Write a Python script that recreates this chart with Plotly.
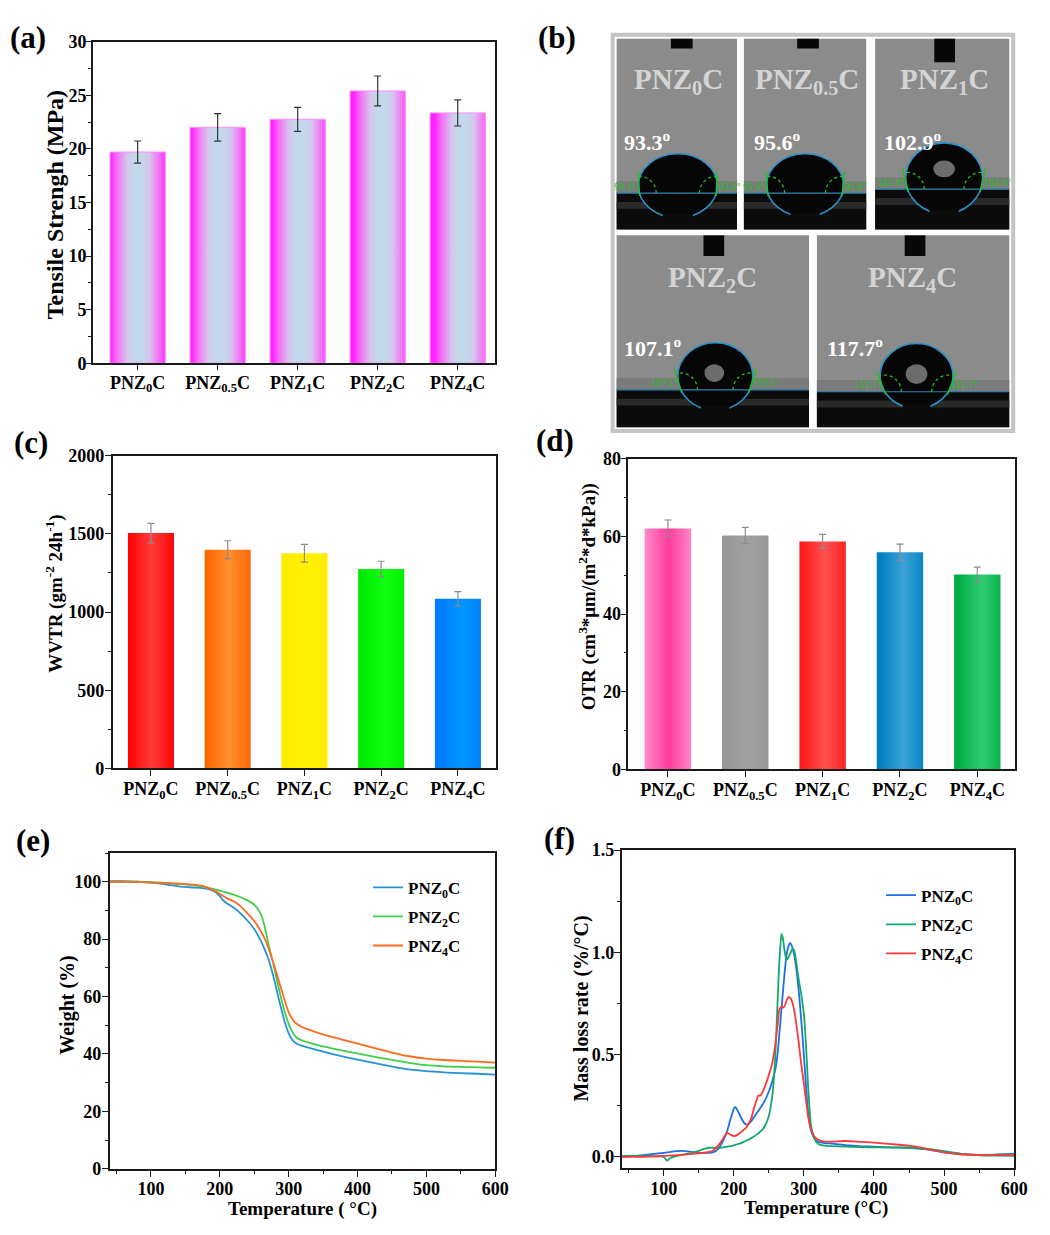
import math
import plotly.graph_objects as go

# page body keeps the browser's default 8px margin, so the figure is 16px smaller
OFF = 8
W, H = 1034, 1217
FONT = 'Liberation Serif'

# ---------------- data ----------------
categories = ['PNZ<sub>0</sub>C', 'PNZ<sub>0.5</sub>C', 'PNZ<sub>1</sub>C', 'PNZ<sub>2</sub>C', 'PNZ<sub>4</sub>C']

tensile = [19.7, 22.0, 22.75, 25.4, 23.35]
tensile_err = [1.03, 1.28, 1.12, 1.39, 1.22]

wvtr = [1505, 1399, 1376, 1275, 1085]
wvtr_err = [62, 57, 57, 50, 46]

otr = [62.0, 60.2, 58.7, 55.9, 50.2]
otr_err = [2.2, 2.1, 1.8, 2.1, 1.9]

contact_angles = ['93.3', '95.6', '102.9', '107.1', '117.7']
fitted_angles = [93.3, 95.6, 102.9, 107.1, 111.7]

series_names = ['PNZ<sub>0</sub>C', 'PNZ<sub>2</sub>C', 'PNZ<sub>4</sub>C']

tga_T = [40, 60, 80, 100, 120, 140, 160, 175, 185, 195, 200, 205, 210, 220, 230, 240, 250, 255,
         260, 265, 270, 275, 280, 285, 290, 295, 300, 305, 310, 320, 330, 350, 375, 400, 425,
         450, 475, 500, 525, 550, 575, 600]
tga_pnz0 = [100.2, 100.2, 100.0, 99.7, 99.2, 98.4, 98.0, 97.8, 97.3, 96.2, 95.0, 93.5, 92.5, 91.0,
            89.0, 86.5, 83.5, 81.5, 79.2, 76.5, 73.5, 69.5, 65.0, 59.8, 55.0, 50.5, 47.2, 45.0,
            43.8, 42.8, 42.1, 40.8, 39.3, 38.0, 36.8, 35.6, 34.6, 34.0, 33.6, 33.3, 33.1, 32.8]
tga_pnz2 = [100.0, 100.0, 100.0, 99.8, 99.6, 99.3, 98.8, 98.3, 97.8, 97.2, 96.9, 96.6, 96.2, 95.5,
            94.6, 93.5, 92.0, 90.6, 88.5, 84.5, 79.0, 74.0, 69.0, 63.5, 58.5, 54.0, 50.5, 47.8,
            46.0, 44.6, 43.9, 42.6, 41.3, 40.2, 39.0, 37.9, 36.9, 36.1, 35.7, 35.5, 35.3, 35.2]
tga_pnz4 = [100.0, 100.0, 99.9, 99.8, 99.6, 99.3, 99.0, 98.6, 97.7, 96.5, 95.8, 95.0, 94.3, 93.2,
            91.5, 89.0, 86.3, 84.6, 82.6, 80.3, 77.3, 73.8, 70.0, 66.0, 62.0, 58.0, 54.5, 52.3,
            50.8, 49.3, 48.4, 46.8, 45.2, 43.6, 42.0, 40.5, 39.2, 38.4, 37.9, 37.6, 37.3, 37.0]

dtg_T = [40, 60, 80, 100, 105, 110, 125, 140, 150, 160, 165, 170, 175, 180, 185, 190, 195, 200,
         202, 205, 210, 215, 218, 220, 225, 230, 235, 238, 240, 245, 250, 255, 258, 260, 263,
         265, 268, 270, 272, 274, 276, 278, 280, 282, 284, 286, 288, 290, 293, 296, 300, 303,
         306, 310, 315, 320, 330, 340, 360, 380, 400, 425, 450, 475, 500, 525, 550, 575, 600]
dtg_pnz0 = [0.0, 0.005, 0.012, 0.02, 0.022, 0.025, 0.03, 0.025, 0.02, 0.02, 0.02, 0.022, 0.03,
            0.05, 0.08, 0.12, 0.18, 0.235, 0.245, 0.23, 0.195, 0.165, 0.158, 0.16, 0.175, 0.2,
            0.225, 0.24, 0.25, 0.28, 0.32, 0.37, 0.41, 0.44, 0.52, 0.6, 0.72, 0.8, 0.88, 0.95,
            1.0, 1.03, 1.045, 1.04, 1.02, 0.99, 0.95, 0.9, 0.8, 0.68, 0.5, 0.35, 0.22, 0.13,
            0.09, 0.075, 0.068, 0.065, 0.058, 0.053, 0.05, 0.047, 0.045, 0.037, 0.022, 0.015,
            0.01, 0.012, 0.015]
dtg_pnz2 = [0.005, 0.005, 0.004, 0.0, -0.018, -0.005, 0.01, 0.02, 0.03, 0.042, 0.045, 0.045,
            0.044, 0.045, 0.047, 0.05, 0.053, 0.057, 0.059, 0.062, 0.068, 0.075, 0.08, 0.083,
            0.092, 0.103, 0.115, 0.125, 0.13, 0.155, 0.2, 0.3, 0.42, 0.55, 0.8, 0.95, 1.09,
            1.07, 1.02, 0.98, 0.965, 0.975, 0.99, 1.005, 1.02, 1.01, 0.98, 0.93, 0.86, 0.8,
            0.7, 0.55, 0.35, 0.16, 0.09, 0.065, 0.055, 0.053, 0.05, 0.048, 0.047, 0.046, 0.045,
            0.04, 0.028, 0.015, 0.008, 0.006, 0.005]
dtg_pnz4 = [0.0, 0.0, 0.002, 0.005, 0.006, 0.007, 0.01, 0.015, 0.018, 0.022, 0.025, 0.03, 0.045,
            0.065, 0.09, 0.118, 0.11, 0.102, 0.103, 0.108, 0.12, 0.135, 0.145, 0.155, 0.19,
            0.25, 0.3, 0.3, 0.31, 0.35, 0.4, 0.46, 0.52, 0.57, 0.66, 0.72, 0.735, 0.73, 0.735,
            0.75, 0.77, 0.78, 0.78, 0.77, 0.75, 0.72, 0.68, 0.63, 0.55, 0.46, 0.36, 0.28, 0.2,
            0.14, 0.1, 0.085, 0.075, 0.075, 0.078, 0.074, 0.07, 0.063, 0.055, 0.04, 0.022,
            0.012, 0.01, 0.01, 0.01]

# ---------------- styles ----------------
scale_a = [[0, '#ff22ff'], [0.12, '#f56ef6'], [0.3, '#d6c6ee'], [0.42, '#c3d8ea'],
           [0.58, '#c3d8ea'], [0.7, '#d6c6ee'], [0.88, '#f56ef6'], [1, '#ff22ff']]
scales_c = [
    [[0, '#ff0000'], [0.5, '#ff3c3c'], [1, '#ff0000']],
    [[0, '#ff6600'], [0.5, '#ff8e2e'], [1, '#ff6600']],
    [[0, '#ffea00'], [0.5, '#fff200'], [1, '#ffea00']],
    [[0, '#00ea00'], [0.5, '#10ff10'], [1, '#00ea00']],
    [[0, '#007cff'], [0.5, '#0096ff'], [1, '#007cff']],
]
scales_d = [
    [[0, '#ff88c8'], [0.5, '#ff3c9e'], [1, '#ff88c8']],
    [[0, '#989898'], [0.5, '#a0a0a0'], [1, '#989898']],
    [[0, '#ff1a1a'], [0.5, '#ff5050'], [1, '#ff1a1a']],
    [[0, '#0080c0'], [0.5, '#3ca2d8'], [1, '#0080c0']],
    [[0, '#00ae45'], [0.5, '#2ecc72'], [1, '#00ae45']],
]
tga_colors = ['#2791d8', '#3fcf4a', '#ff6a1e']
dtg_colors = ['#1c6fe6', '#12a86c', '#ff3838']

fig = go.Figure()


def px_x(p):
    return (p - OFF) / W


def px_y(p):
    return 1 - (p - OFF) / H


def add_bars(values, errs, scales, width, xa, ya, errcolor, edge=None):
    for i, v in enumerate(values):
        x0, x1 = i - width / 2, i + width / 2
        fig.add_trace(go.Scatter(
            x=[x0, x1, x1, x0, x0], y=[0, 0, v, v, 0], mode='lines', fill='toself',
            fillgradient=dict(type='horizontal', colorscale=scales[i], start=x0, stop=x1),
            line=dict(width=1 if edge else 0, color=edge or 'rgba(0,0,0,0)'),
            xaxis=xa, yaxis=ya, showlegend=False, hoverinfo='skip'))
    fig.add_trace(go.Scatter(
        x=list(range(len(values))), y=values, mode='markers',
        marker=dict(size=1, color='rgba(0,0,0,0)'),
        error_y=dict(type='data', array=errs, color=errcolor, thickness=1.2, width=3.5),
        xaxis=xa, yaxis=ya, showlegend=False, hoverinfo='skip'))


add_bars(tensile, tensile_err, [scale_a] * 5, 0.69, 'x', 'y', '#333333', edge='#ff8cff')
add_bars(wvtr, wvtr_err, scales_c, 0.6, 'x2', 'y2', '#8c8c8c')
add_bars(otr, otr_err, scales_d, 0.6, 'x3', 'y3', '#8c8c8c')

for name, vals, col in zip(series_names, [tga_pnz0, tga_pnz2, tga_pnz4], tga_colors):
    fig.add_trace(go.Scatter(x=tga_T, y=vals, mode='lines', name=name,
                             line=dict(color=col, width=1.8, shape='spline', smoothing=0.6),
                             xaxis='x4', yaxis='y4', legend='legend', legendgroup='e' + name))
for name, vals, col in zip(series_names, [dtg_pnz0, dtg_pnz2, dtg_pnz4], dtg_colors):
    fig.add_trace(go.Scatter(x=dtg_T, y=vals, mode='lines', name=name,
                             line=dict(color=col, width=1.8, shape='spline', smoothing=0.5),
                             xaxis='x5', yaxis='y5', legend='legend2', legendgroup='f' + name))

tickfont = dict(family=FONT, size=18, color='black', weight='bold')
base = dict(showline=True, mirror=True, linecolor='#1a1a1a', linewidth=1.6, ticks='outside',
            ticklen=6, tickwidth=1.4, tickcolor='#1a1a1a', showgrid=False, zeroline=False,
            tickfont=tickfont)


def dom(a, b):
    return [px_x(a), px_x(b)]


def ydom(top, bottom):
    return [px_y(bottom), px_y(top)]


def minor(d):
    return dict(ticks='outside', ticklen=3, dtick=d, tickcolor='#1a1a1a')


fig.update_layout(
    xaxis=dict(base, domain=dom(94, 502), range=[-0.56, 4.47], tickvals=list(range(5)),
               ticktext=categories, anchor='y', ticklen=5, ticklabelstandoff=-3),
    yaxis=dict(base, domain=ydom(32, 359), range=[0, 30], dtick=5, minor=minor(2.5),
               anchor='x', ticklen=5, ticklabelstandoff=-4),
    xaxis2=dict(base, domain=dom(114, 503), range=[-0.5, 4.5], tickvals=list(range(5)),
                ticktext=categories, anchor='y2', ticklabelstandoff=-3),
    yaxis2=dict(base, domain=ydom(453, 771), range=[0, 2000], dtick=500, minor=minor(250),
                anchor='x2', ticklabelstandoff=-3),
    xaxis3=dict(base, domain=dom(637, 1029), range=[-0.51, 4.49], tickvals=list(range(5)),
                ticktext=categories, anchor='y3', ticklabelstandoff=-3),
    yaxis3=dict(base, domain=ydom(456, 772), range=[0, 80], dtick=20, minor=minor(10),
                anchor='x3', ticklabelstandoff=-4),
    xaxis4=dict(base, domain=dom(111, 502), range=[40, 600], dtick=100, tick0=0,
                minor=minor(50), anchor='y4', ticklabelstandoff=-3),
    yaxis4=dict(base, domain=ydom(857, 1178), range=[0, 110], dtick=20, minor=minor(10),
                anchor='x4', ticklabelstandoff=-3),
    xaxis5=dict(base, domain=dom(630, 1028), range=[40, 600], dtick=100, tick0=0,
                minor=minor(50), anchor='y5', ticklabelstandoff=-2),
    yaxis5=dict(base, domain=ydom(854, 1177), range=[-0.053, 1.5], dtick=0.5, tick0=0,
                tickformat='.1f', minor=minor(0.25), anchor='x5', ticklabelstandoff=-4),
)

legend_font = dict(family=FONT, size=17, color='black', weight='bold')
fig.update_layout(
    legend=dict(x=px_x(373), y=px_y(874), xanchor='left', yanchor='top', font=legend_font,
                bgcolor='rgba(0,0,0,0)', tracegroupgap=4),
    legend2=dict(x=px_x(893), y=px_y(882), xanchor='left', yanchor='top', font=legend_font,
                 bgcolor='rgba(0,0,0,0)', tracegroupgap=4),
)

annotations = []

# ---------------- axis titles ----------------
for text, x, y, size, angle in [
        ('Tensile Strengh (MPa)', 56, 198, 24, -90),
        ('WVTR (gm<sup>-2</sup> 24h<sup>-1</sup>)', 55, 593, 19, -90),
        ('OTR (cm<sup>3</sup>*μm/(m<sup>2</sup>*d*kPa))', 595, 597, 19, -90),
        ('Weight (%)', 68, 1012, 20, -90),
        ('Mass loss rate (%/°C)', 589, 1015, 20, -90),
        ('Temperature ( °C)', 307, 1219, 19, 0),
        ('Temperature (°C)', 827, 1218, 19, 0)]:
    annotations.append(dict(text=text, x=px_x(x), y=px_y(y), xref='paper', yref='paper',
                            xanchor='center', yanchor='middle', showarrow=False, textangle=angle,
                            font=dict(family=FONT, size=size, color='black', weight='bold')))

# ---------------- panel labels ----------------
for lab, x, y in [('(a)', 8, 28), ('(b)', 543, 28), ('(c)', 12, 440), ('(d)', 541, 438),
                  ('(e)', 14, 844), ('(f)', 549, 842)]:
    annotations.append(dict(text=lab, x=px_x(x), y=px_y(y), xref='paper', yref='paper',
                            xanchor='left', yanchor='middle', showarrow=False,
                            font=dict(family=FONT, size=31, color='black', weight='bold')))

# ---------------- panel (b): contact-angle photos ----------------
shapes = []


def rect(x0, y0, x1, y1, fill, line_color=None, lw=0):
    shapes.append(dict(type='rect', xref='paper', yref='paper', x0=px_x(x0), x1=px_x(x1),
                       y0=px_y(y0), y1=px_y(y1), fillcolor=fill,
                       line=dict(color=line_color or fill, width=lw)))


def ellipse(x0, y0, x1, y1, fill, line_color, lw):
    shapes.append(dict(type='circle', xref='paper', yref='paper', x0=px_x(x0), x1=px_x(x1),
                       y0=px_y(y0), y1=px_y(y1), fillcolor=fill,
                       line=dict(color=line_color, width=lw)))


def seg(xa, ya, xb, yb, color, lw, dash='solid'):
    shapes.append(dict(type='line', xref='paper', yref='paper', x0=px_x(xa), x1=px_x(xb),
                       y0=px_y(ya), y1=px_y(yb), line=dict(color=color, width=lw, dash=dash)))


def poly(points, color, lw, dash):
    d = 'M ' + ' L '.join('%.5f,%.5f' % (px_x(a), px_y(b)) for a, b in points)
    shapes.append(dict(type='path', xref='paper', yref='paper', path=d,
                       line=dict(color=color, width=lw, dash=dash)))


rect(621, 25, 1027, 428, 'white', '#c4c4c4', 4)

photos = [
    dict(box=(625, 29, 747, 223), sub=186, needle=(680, 702, 39), lab=(688, 72), ang=(630, 133),
         drop=(647, 146, 727, 211), hl=None),
    dict(box=(754, 29, 878, 223), sub=186, needle=(808, 830, 39), lab=(818, 72), ang=(762, 133),
         drop=(777, 146, 855, 210), hl=None),
    dict(box=(887, 29, 1023, 223), sub=182, needle=(947, 968, 53), lab=(957, 72), ang=(894, 133),
         drop=(918, 135, 996, 207), hl=(946, 153, 968, 170)),
    dict(box=(625, 229, 820, 424), sub=386, needle=(713, 734, 250), lab=(722, 273), ang=(630, 343),
         drop=(687, 338, 763, 407), hl=(714, 360, 734, 378)),
    dict(box=(828, 229, 1023, 424), sub=388, needle=(917, 938, 250), lab=(925, 273), ang=(836, 343),
         drop=(892, 339, 966, 405), hl=(918, 360, 940, 380)),
]

for k, ph in enumerate(photos):
    x0, y0, x1, y1 = ph['box']
    sub = ph['sub']
    rect(x0, y0, x1, y1, '#8b8b8b')
    rect(x0, sub - 12, x1, sub, '#7b7b7b')
    rect(x0, sub, x1, y1, '#0b0b0b')
    rect(x0, sub + 9, x1, sub + 16, '#2a2a2a')
    nx0, nx1, ny = ph['needle']
    rect(nx0, y0, nx1, ny, '#080808')
    dx0, dy0, dx1, dy1 = ph['drop']
    ellipse(dx0, dy0, dx1, dy1, '#060606', '#2b93c9', 1.6)
    cxd = (dx0 + dx1) / 2
    gap = (dx1 - dx0) * 0.19
    rect(cxd - gap, dy1 - 4, cxd + gap, dy1 + 3, '#0b0b0b')
    if ph['hl']:
        hx0, hy0, hx1, hy1 = ph['hl']
        ellipse(hx0, hy0, hx1, hy1, '#6c6c6c', '#6c6c6c', 0)
    seg(x0, sub, x1, sub, '#2b86b8', 1.2)
    # contact points & tangent markers
    a = (dx1 - dx0) / 2
    b = (dy1 - dy0) / 2
    cyd = (dy0 + dy1) / 2
    off = a * math.sqrt(max(0.0, 1 - ((sub - cyd) / b) ** 2))
    xl, xr = cxd - off, cxd + off
    th = math.radians(fitted_angles[k])
    seg(xl - 3 * math.cos(th), sub + 3 * math.sin(th), xl + 22 * math.cos(th), sub - 22 * math.sin(th),
        '#22c322', 1.4)
    seg(xr + 3 * math.cos(th), sub + 3 * math.sin(th), xr - 22 * math.cos(th), sub - 22 * math.sin(th),
        '#22c322', 1.4)
    r = 17
    n = 12
    poly([(xl + r * math.cos(th * i / n), sub - r * math.sin(th * i / n)) for i in range(n + 1)],
         '#22c322', 1.3, 'dot')
    poly([(xr - r * math.cos(th * i / n), sub - r * math.sin(th * i / n)) for i in range(n + 1)],
         '#22c322', 1.3, 'dot')
    small = dict(family='DejaVu Sans', size=8, color='#22c322')
    annotations.append(dict(text='%.1f°' % fitted_angles[k], x=px_x(max(xl - 1, x0 + 20)),
                            y=px_y(sub - 6), xref='paper', yref='paper', xanchor='right',
                            yanchor='middle', showarrow=False, font=small))
    annotations.append(dict(text='%.1f°' % fitted_angles[k], x=px_x(min(xr + 1, x1 - 20)),
                            y=px_y(sub - 6), xref='paper', yref='paper', xanchor='left',
                            yanchor='middle', showarrow=False, font=small))
    lx, ly = ph['lab']
    annotations.append(dict(text=categories[k], x=px_x(lx), y=px_y(ly), xref='paper',
                            yref='paper', xanchor='center', yanchor='middle', showarrow=False,
                            font=dict(family=FONT, size=29, color='#d4d4d4', weight='bold')))
    ax, ay = ph['ang']
    annotations.append(dict(text=contact_angles[k] + '<sup>o</sup>', x=px_x(ax), y=px_y(ay),
                            xref='paper', yref='paper', xanchor='left', yanchor='middle',
                            showarrow=False,
                            font=dict(family=FONT, size=22, color='white', weight='bold')))

fig.update_layout(
    width=W, height=H, margin=dict(l=0, r=0, t=0, b=0),
    paper_bgcolor='white', plot_bgcolor='white',
    font=dict(family=FONT, color='black'),
    annotations=annotations, shapes=shapes, showlegend=True,
)

fig.write_html("out.html", include_plotlyjs=True, config={'displayModeBar': False})
